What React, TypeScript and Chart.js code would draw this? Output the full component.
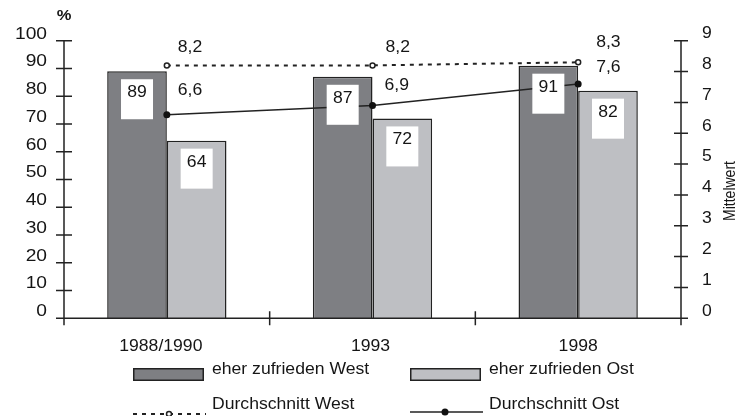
import React, { useEffect, useRef } from 'react';
import { Chart, registerables } from 'chart.js';

Chart.register(...registerables);

// ---- data ----
const categories = ['1988/1990', '1993', '1998'];
const westSatisfied = [89, 87, 91];
const eastSatisfied = [64, 72, 82];
const westMean = [8.2, 8.2, 8.3];
const eastMean = [6.6, 6.9, 7.6];
const leftTicks = [0, 10, 20, 30, 40, 50, 60, 70, 80, 90, 100];
const rightTicks = [0, 1, 2, 3, 4, 5, 6, 7, 8, 9];
const seriesNames = ['eher zufrieden West', 'eher zufrieden Ost', 'Durchschnitt West', 'Durchschnitt Ost'];
const leftTitle = '%';
const rightTitle = 'Mittelwert';

// ---- style ----
const FONT = '"Liberation Sans", Arial, sans-serif';
const SX = 1.1; // horizontal text stretch seen in the reference
const INK = '#222222';
const TEXT = '#151515';
const WEST_FILL = '#7e7f83';
const EAST_FILL = '#bebfc3';
const westLabelOffset = [[11, -18], [13, -18], [18, -20]];
const eastLabelOffset = [[11, -24], [12, -20], [18, -16]];
const catLabelDx = [-6, -2, 0];

function txt(ctx: CanvasRenderingContext2D, s: string, x: number, y: number, align: CanvasTextAlign, size = 16, bold = false, sx = SX) {
  ctx.save();
  ctx.font = `${bold ? 'bold ' : ''}${size}px ${FONT}`;
  ctx.fillStyle = TEXT;
  ctx.textBaseline = 'middle';
  ctx.textAlign = align;
  ctx.translate(x, y);
  ctx.scale(sx, 1);
  ctx.fillText(s, 0, 0);
  ctx.restore();
}

const fmt = (v: number) => v.toFixed(1).replace('.', ',');

const decorPlugin = {
  id: 'decor',
  afterDatasetsDraw(chart: any) {
    const ctx: CanvasRenderingContext2D = chart.ctx;
    [0, 1].forEach((di) => {
      const meta = chart.getDatasetMeta(di);
      meta.data.forEach((bar: any, i: number) => {
        const bx = bar.x;
        const top = bar.y + 8;
        ctx.save();
        ctx.fillStyle = '#ffffff';
        ctx.fillRect(bx - 16, top, 32, 40);
        ctx.restore();
        txt(ctx, String(chart.data.datasets[di].data[i]), bx, top + 13.5, 'center');
      });
    });
    const mw = chart.getDatasetMeta(2);
    mw.data.forEach((p: any, i: number) => {
      txt(ctx, fmt(westMean[i]), p.x + westLabelOffset[i][0], p.y + westLabelOffset[i][1], 'left');
    });
    const me = chart.getDatasetMeta(3);
    me.data.forEach((p: any, i: number) => {
      txt(ctx, fmt(eastMean[i]), p.x + eastLabelOffset[i][0], p.y + eastLabelOffset[i][1], 'left');
    });
  },
  afterDraw(chart: any) {
    const ctx: CanvasRenderingContext2D = chart.ctx;
    const { x, y, y2 } = chart.scales;
    const area = chart.chartArea;
    const L = area.left, R = area.right, B = y.getPixelForValue(0);
    ctx.save();
    ctx.strokeStyle = INK;
    ctx.lineWidth = 1.5;
    ctx.beginPath();
    ctx.moveTo(L, y.getPixelForValue(100));
    ctx.lineTo(L, B + 7);
    leftTicks.forEach((t) => {
      const py = y.getPixelForValue(t);
      ctx.moveTo(L - 8, py);
      ctx.lineTo(L + 8, py);
    });
    ctx.moveTo(R, y2.getPixelForValue(9));
    ctx.lineTo(R, B + 7);
    rightTicks.forEach((t) => {
      const py = y2.getPixelForValue(t);
      ctx.moveTo(R - 7, py);
      ctx.lineTo(R + 7, py);
    });
    ctx.moveTo(L - 7, B);
    ctx.lineTo(R, B);
    for (let i = 1; i < categories.length; i++) {
      const px = (x.getPixelForValue(i - 1) + x.getPixelForValue(i)) / 2;
      ctx.moveTo(px, B - 7);
      ctx.lineTo(px, B + 7);
    }
    ctx.stroke();
    ctx.restore();

    leftTicks.forEach((t) => txt(ctx, String(t), L - 17, y.getPixelForValue(t) - 6.5, 'right', 16, false, 1.2));
    rightTicks.forEach((t) => txt(ctx, String(t), R + 21, y2.getPixelForValue(t) - 7, 'left'));
    categories.forEach((c, i) => txt(ctx, c, x.getPixelForValue(i) + catLabelDx[i], 346.5, 'center'));
    txt(ctx, leftTitle, L, 15.5, 'center', 15, true);
    ctx.save();
    ctx.font = `14px ${FONT}`;
    ctx.fillStyle = TEXT;
    ctx.textAlign = 'center';
    ctx.textBaseline = 'middle';
    ctx.translate(731, 191);
    ctx.rotate(-Math.PI / 2);
    ctx.scale(1, 1.15);
    ctx.fillText(rightTitle, 0, 0);
    ctx.restore();

    const cols = [133, 410];
    const textX = [212, 489];
    ctx.save();
    ctx.strokeStyle = INK;
    ctx.lineWidth = 1.5;
    [WEST_FILL, EAST_FILL].forEach((fill, k) => {
      ctx.fillStyle = fill;
      ctx.fillRect(cols[k], 368, 71, 13);
      ctx.strokeRect(cols[k] + 0.75, 368.75, 69.5, 11.5);
    });
    ctx.setLineDash([4, 5]);
    ctx.lineWidth = 2;
    ctx.beginPath();
    ctx.moveTo(cols[0], 414);
    ctx.lineTo(cols[0] + 73, 414);
    ctx.stroke();
    ctx.setLineDash([]);
    ctx.lineWidth = 1.5;
    ctx.beginPath();
    ctx.arc(cols[0] + 36, 414, 2.5, 0, Math.PI * 2);
    ctx.fillStyle = '#fff';
    ctx.fill();
    ctx.stroke();
    ctx.beginPath();
    ctx.moveTo(cols[1], 412);
    ctx.lineTo(cols[1] + 73, 412);
    ctx.stroke();
    ctx.beginPath();
    ctx.arc(cols[1] + 35, 412, 3.5, 0, Math.PI * 2);
    ctx.fillStyle = '#111';
    ctx.fill();
    ctx.restore();
    txt(ctx, seriesNames[0], textX[0], 370, 'left');
    txt(ctx, seriesNames[1], textX[1], 370, 'left');
    txt(ctx, seriesNames[2], textX[0], 404.5, 'left');
    txt(ctx, seriesNames[3], textX[1], 405, 'left');
  },
};

export default function App() {
  const ref = useRef<HTMLCanvasElement | null>(null);
  useEffect(() => {
    if (!ref.current) return;
    const chart = new Chart(ref.current, {
      type: 'bar',
      data: {
        labels: categories,
        datasets: [
          {
            type: 'bar',
            label: seriesNames[0],
            data: westSatisfied,
            backgroundColor: WEST_FILL,
            borderColor: INK,
            borderWidth: 1.5,
            yAxisID: 'y',
            categoryPercentage: 0.58,
            barPercentage: 1,
            order: 2,
          },
          {
            type: 'bar',
            label: seriesNames[1],
            data: eastSatisfied,
            backgroundColor: EAST_FILL,
            borderColor: INK,
            borderWidth: 1.5,
            yAxisID: 'y',
            categoryPercentage: 0.58,
            barPercentage: 1,
            order: 2,
          },
          {
            type: 'line',
            label: seriesNames[2],
            data: westMean,
            borderColor: INK,
            borderWidth: 2,
            borderDash: [4, 5],
            pointRadius: 2.5,
            pointBackgroundColor: '#ffffff',
            pointBorderColor: INK,
            pointBorderWidth: 1.5,
            yAxisID: 'y2',
            tension: 0,
            order: 1,
          },
          {
            type: 'line',
            label: seriesNames[3],
            data: eastMean,
            borderColor: INK,
            borderWidth: 1.5,
            pointRadius: 3.5,
            pointBackgroundColor: '#111111',
            pointBorderColor: '#111111',
            pointBorderWidth: 0,
            yAxisID: 'y2',
            tension: 0,
            order: 1,
          },
        ],
      } as any,
      options: {
        responsive: false,
        animation: false,
        events: [],
        layout: { padding: { left: 64, right: 64, top: 40.7, bottom: 97.7 } },
        plugins: { legend: { display: false }, tooltip: { enabled: false } },
        scales: {
          x: { type: 'category', display: false, offset: true },
          y: { display: false, min: 0, max: 100 },
          y2: { display: false, min: 0, max: 9, position: 'right' },
        },
      } as any,
      plugins: [decorPlugin],
    });
    return () => chart.destroy();
  }, []);
  return (
    <div style={{ position: 'fixed', left: 0, top: 0, width: 745, height: 416, background: '#fff' }}>
      <canvas ref={ref} width={745} height={416} style={{ display: 'block' }} />
    </div>
  );
}
